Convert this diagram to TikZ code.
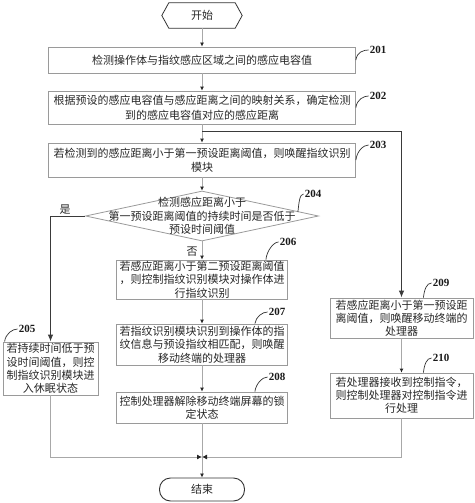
\documentclass[tikz,border=0pt]{standalone}
\usepackage{fontspec}
\newfontfamily\cjk{Noto Sans CJK SC}
\newfontfamily\numfont{Liberation Serif}
\usetikzlibrary{arrows.meta,shapes.geometric}
\definecolor{boxgray}{HTML}{9A9A9A}
\definecolor{linegray}{HTML}{A8A8A8}
\definecolor{darkline}{HTML}{3A3A3A}
\begin{document}
\begin{tikzpicture}[x=1pt,y=-1pt,
  box/.style={draw=boxgray, line width=0.8pt, inner sep=0pt, align=center,
    font=\cjk\fontsize{11}{14}\selectfont, text=black!85},
  conn/.style={draw=linegray, line width=0.8pt, -{Latex[length=4pt,width=4pt,color=black!85]}},
  dconn/.style={draw=darkline, line width=1pt, -{Latex[length=7pt,width=5.5pt]}},
  tag/.style={font=\numfont\bfseries\fontsize{11}{12}\selectfont, inner sep=1pt, text=black!90},
  tick/.style={draw=black!80, line width=0.7pt},
  lbl/.style={font=\cjk\fontsize{11}{12}\selectfont, inner sep=0pt, text=black!85},
]
\useasboundingbox (0,0) rectangle (474,503);

% start
\node[lbl, minimum width=66, minimum height=25] (start) at (202,15.5) {开始};
\draw[draw=black!80, line width=0.8pt] (start.north west) -- (start.north east) -- ([xshift=7pt]start.east)
  -- (start.south east) -- (start.south west) -- ([xshift=-7pt]start.west) -- cycle;

% boxes
\node[box, minimum width=307, minimum height=26] (b201) at (202,60) {检测操作体与指纹感应区域之间的感应电容值};
\node[box, minimum width=307, minimum height=33, font=\cjk\fontsize{11}{15}\selectfont] (b202) at (202,107.5)
  {根据预设的感应电容值与感应距离之间的映射关系，确定检测\\到的感应电容值对应的感应距离};
\node[box, minimum width=307, minimum height=34] (b203) at (202,160)
  {若检测到的感应距离小于第一预设距离阈值，则唤醒指纹识别\\模块};
\node[draw=boxgray, line width=0.8pt, shape=diamond, minimum width=233, minimum height=50, inner sep=0pt] (d204) at (202,216) {};
\node[box, draw=none, font=\cjk\fontsize{11}{13.5}\selectfont] (t204) at (d204.center)
  {检测感应距离小于\\第一预设距离阈值的持续时间是否低于\\预设时间阈值};
\node[box, minimum width=171, minimum height=39, font=\cjk\fontsize{11}{13.5}\selectfont] (b206) at (202,279.5)
  {若感应距离小于第二预设距离阈值\\，则控制指纹识别模块对操作体进\\行指纹识别};
\node[box, minimum width=171, minimum height=41, font=\cjk\fontsize{11}{13.5}\selectfont] (b207) at (202,344.5)
  {若指纹识别模块识别到操作体的指\\纹信息与预设指纹相匹配，则唤醒\\移动终端的处理器};
\node[box, minimum width=171, minimum height=31, font=\cjk\fontsize{11}{13}\selectfont] (b208) at (202,407.5)
  {控制处理器解除移动终端屏幕的锁\\定状态};
\node[box, minimum width=95, minimum height=53, font=\cjk\fontsize{11}{13.3}\selectfont] (b205) at (50.5,368.5)
  {若持续时间低于预\\设时间阈值，则控\\制指纹识别模块进\\入休眠状态};
\node[box, minimum width=143, minimum height=40, font=\cjk\fontsize{11}{13}\selectfont] (b209) at (401.5,318)
  {若感应距离小于第一预设距\\离阈值，则唤醒移动终端的\\处理器};
\node[box, minimum width=143, minimum height=45, font=\cjk\fontsize{11}{13}\selectfont] (b210) at (401.5,395.5)
  {若处理器接收到控制指令，\\则控制处理器对控制指令进\\行处理};
\node[lbl, draw=black!80, line width=0.9pt, rounded corners=11pt, minimum width=85, minimum height=23] (stop) at (202,489.5) {结束};

% yes / no
\node[lbl] (yes) at (65,210) {是};
\node[lbl] (no) at (192,252) {否};

% step tags
\node[tag] (l201) at (378,50) {201};
\node[tag] (l202) at (378,96) {202};
\node[tag] (l203) at (378,145) {203};
\node[tag] (l204) at (313,194) {204};
\node[tag] (l206) at (288,242) {206};
\node[tag] (l207) at (277,312) {207};
\node[tag] (l208) at (277,377) {208};
\node[tag] (l205) at (27,329) {205};
\node[tag] (l209) at (441,283) {209};
\node[tag] (l210) at (441,358) {210};

\draw[tick] (b201.east) .. controls +(1,-8) and +(-5,0) .. (l201.west);
\draw[tick] (b202.east) .. controls +(1,-8) and +(-5,0) .. (l202.west);
\draw[tick] (b203.east) .. controls +(1,-9) and +(-5,0) .. (l203.west);
\draw[tick] ([xshift=-21pt,yshift=4pt]d204.east) .. controls +(1,-9) and +(-4,0) .. (l204.west);
\draw[tick] ([xshift=-22pt]b206.north east) .. controls +(1,-9) and +(-5,0) .. (l206.west);
\draw[tick] ([xshift=-33pt]b207.north east) .. controls +(1,-7) and +(-5,0) .. (l207.west);
\draw[tick] ([xshift=-33pt]b208.north east) .. controls +(1,-8) and +(-5,0) .. (l208.west);
\draw[tick] ([xshift=2pt]b205.north west) .. controls +(1,-8) and +(-5,0) .. (l205.west);
\draw[tick] ([xshift=-50pt]b209.north east) .. controls +(1,-8) and +(-5,0) .. (l209.west);
\draw[tick] ([xshift=-50pt]b210.north east) .. controls +(1,-8) and +(-5,0) .. (l210.west);

% connectors
\coordinate (br) at (202,131);
\coordinate (m) at (202,457);
\draw[conn] (start.south) -- (b201.north);
\draw[conn] (b201.south) -- (b202.north);
\draw[conn] (b202.south) -- (b203.north);
\draw[dconn] (br) -| (b209.north);
\draw[conn] (b203.south) -- (d204.north);
\draw[conn] (d204.south) -- (b206.north);
\draw[dconn] (d204.west) -| (b205.north);
\draw[conn] (b206.south) -- (b207.north);
\draw[conn] (b207.south) -- (b208.north);
\draw[conn] (b209.south) -- (b210.north);
\draw[conn, -{Latex[length=5pt,width=5pt,color=black!85]}] (b205.south) |- (m);
\draw[conn, -{Latex[length=5pt,width=5pt,color=black!85]}] (b210.south) |- (m);
\draw[conn] (b208.south) -- (stop.north);
\end{tikzpicture}
\end{document}
